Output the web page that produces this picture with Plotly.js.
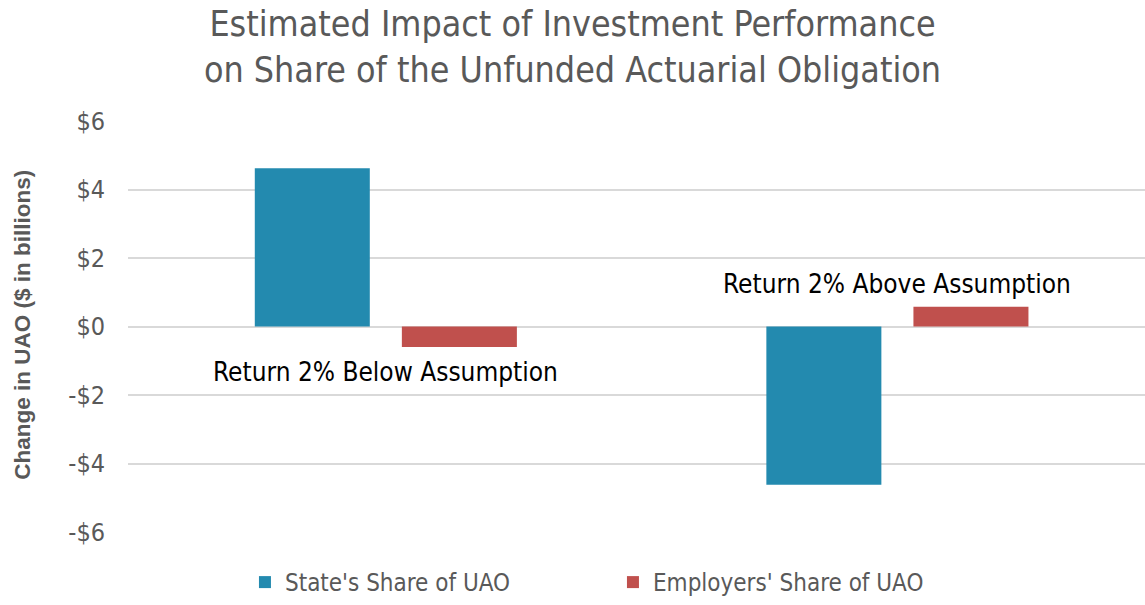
<!DOCTYPE html>
<html>
<head>
<meta charset="utf-8">
<script src="https://cdn.plot.ly/plotly-3.0.1.min.js"></script>
<style>html,body{margin:0;padding:0;background:#fff;}#chart{width:1145px;height:605px;}</style>
</head>
<body>
<div id="chart"></div>
<script>
const categories = ["Return 2% Below Assumption", "Return 2% Above Assumption"];
const stateShare = [4.62, -4.62];
const employersShare = [-0.6, 0.58];
const seriesNames = ["State's Share of UAO", "Employers' Share of UAO"];
const tickValues = [-6, -4, -2, 0, 2, 4, 6];
const tickLabels = ["-$6", "-$4", "-$2", "$0", "$2", "$4", "$6"];
const labelOffsets = [-1.32, 1.25];
const yAxisTitle = 'Change in UAO ($ in billions)';

const narrow = '"Liberation Sans Narrow", "DejaVu Sans Condensed", Arial, sans-serif';
const gray = '#595959';

const traces = [
  {type: 'bar', name: seriesNames[0], x: categories, y: stateShare,
   marker: {color: '#238AAF'}, hoverinfo: 'y'},
  {type: 'bar', name: seriesNames[1], x: categories, y: employersShare,
   marker: {color: '#C0504D'}, hoverinfo: 'y'}
];

const annotations = categories.map((c, i) => ({
  x: c, y: labelOffsets[i], xref: 'x', yref: 'y', text: c, showarrow: false,
  font: {family: narrow, size: 26, color: '#000'}
}));
annotations.push({
  text: yAxisTitle, xref: 'paper', yref: 'paper', x: -0.104, y: 0.505,
  xanchor: 'center', yanchor: 'middle', textangle: -90, showarrow: false,
  font: {family: 'Arial, "Liberation Sans", sans-serif', size: 22.5, color: gray, weight: 'bold'}
});

const layout = {
  width: 1145, height: 605,
  margin: {l: 128, r: 0, t: 121, b: 72},
  paper_bgcolor: '#fff', plot_bgcolor: '#fff',
  title: {
    text: 'Estimated Impact of Investment Performance<br>on Share of the Unfunded Actuarial Obligation',
    font: {family: narrow, size: 35.5, color: gray},
    x: 0.5, xref: 'container', xanchor: 'center', y: 0.94, yref: 'container', yanchor: 'top'
  },
  barmode: 'group', bargap: 0.425, bargroupgap: 0.218,
  xaxis: {range: [-0.504, 1.484], showticklabels: false, showgrid: false, zeroline: false, showline: false, ticks: ''},
  yaxis: {
    range: [-6, 6], tickvals: tickValues, ticktext: tickLabels,
    tickfont: {family: narrow, size: 25, color: gray},
    gridcolor: '#D9D9D9', gridwidth: 2, zeroline: true, zerolinecolor: '#D9D9D9', zerolinewidth: 2,
    showline: false, ticks: '', ticklen: 0, ticklabelstandoff: 22
  },
  legend: {
    orientation: 'h', x: 0.115, xanchor: 'left', y: -0.067, yanchor: 'top',
    font: {family: narrow, size: 24, color: gray}, entrywidth: 323, entrywidthmode: 'pixels',
    traceorder: 'normal'
  },
  annotations: annotations,
  showlegend: true
};

Plotly.newPlot('chart', traces, layout, {displayModeBar: false, staticPlot: true});
</script>
</body>
</html>
